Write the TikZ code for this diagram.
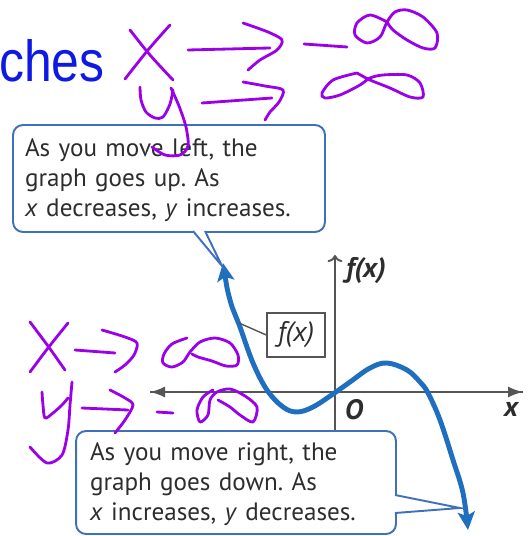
\documentclass[tikz,border=0pt]{standalone}
\usepackage{fontspec}
\setmainfont{PT Sans}
\newfontfamily\slidefont{Liberation Sans}
\usetikzlibrary{arrows.meta}
\frenchspacing

\definecolor{curveblue}{RGB}{31,111,193}
\definecolor{boxblue}{RGB}{62,112,190}
\definecolor{axisgray}{RGB}{85,85,85}
\definecolor{inkpurple}{RGB}{155,0,235}
\definecolor{titleblue}{RGB}{15,25,230}
\definecolor{textgray}{RGB}{45,45,45}

\tikzset{
  callout/.style={draw=boxblue, line width=1.1pt, rounded corners=0.2cm, fill=white,
    text=textgray, align=left, inner ysep=0pt, font=\fontsize{14.3}{17.1}\selectfont},
  pointer/.style={draw=boxblue, line width=1.1pt, fill=white},
  axis/.style={draw=axisgray, line width=1.1pt, -{Latex[length=0.3cm,width=0.22cm]}},
  axislabel/.style={text=textgray, inner sep=0pt, font=\fontsize{16}{16}\selectfont\bfseries\itshape},
  ink/.style={draw=inkpurple, line width=1.6pt, line cap=round, line join=round},
}

\begin{document}
\begin{tikzpicture}[x=0.02cm, y=-0.02cm]
\useasboundingbox (0,0) rectangle (530,536);

% Titre
\node[anchor=base west, inner sep=0pt, text=titleblue, xscale=0.86,
  font=\slidefont\fontsize{33}{36}\selectfont] (title) at (-1,82)
{ches};

% Axes
\coordinate (xl) at (150,392);
\coordinate (xr) at (523,392);
\coordinate (yb) at (335,431);
\coordinate (yt) at (335,255);

\draw[axis] (xl) -- (xr);
\draw[axis, <-] (yt) -- (yb);
\draw[axis] (xr) -- (xl);

\node[axislabel] (ylab) at (366,271)
{f(x)};

\node[axislabel] (olab) at (354,410)
{O};

\node[axislabel] (xlab) at (511,409)
{x};

% Courbe
\draw[curveblue, line width=2.8pt,
  {Stealth[length=0.36cm,width=0.34cm,inset=0.08cm]}-{Stealth[length=0.36cm,width=0.34cm,inset=0.08cm]}]
plot[smooth, tension=0.6] coordinates {(223,263) (230,300) (240,327) (253,363) (267,390)
  (283,407) (297,412) (313,407) (333,394) (350,382) (370,368) (387,363) (407,370)
  (420,382) (428,393) (440,420) (453,460) (463,493) (468,530)};

% Etiquette f(x)
\coordinate (fpt) at (239,323);

\node[draw=axisgray, line width=0.8pt, fill=white, minimum width=1.16cm,
  minimum height=0.88cm, text=textgray, font=\fontsize{16}{16}\selectfont\itshape] (flab) at (296,335)
{f(x)};

\draw[axisgray, line width=0.8pt]
(flab.west)
--
(fpt);

% Bulle gauche
\coordinate (tipL) at (222,266);
\coordinate (baseLa) at (193,231);
\coordinate (baseLb) at (205,231);

\node[callout, inner xsep=0.24cm, text width=5.76cm, minimum height=2.14cm] (leftbox) at (169,178.5)
{\rule{0pt}{0.42cm}As you move left, the\\
graph goes up. As\\
\textit{x} decreases, \textit{y} increases.};

\filldraw[pointer]
(baseLa)
--
(tipL)
--
(baseLb);

% Bulle droite
\coordinate (tipR) at (460,508);
\coordinate (baseRa) at (395,495);
\coordinate (baseRb) at (395,513);

\node[callout, inner xsep=0.28cm, text width=5.84cm, minimum height=2.06cm] (rightbox) at (236,482.5)
{\rule{0pt}{0.42cm}As you move right, the\\
graph goes down. As\\
\textit{x} increases, \textit{y} decreases.};

\filldraw[pointer]
(baseRa)
--
(tipR)
--
(baseRb);

% Notes a la main : x -> -oo, y -> oo
\draw[ink] plot[smooth] coordinates {(130,30) (150,55) (173,80)};
\draw[ink] plot[smooth] coordinates {(170,25) (148,50) (125,79)};
\draw[ink] (188,50) -- (270,48);
\draw[ink] plot[smooth] coordinates {(243,23) (268,32) (282,40) (277,50) (260,60) (248,70)};
\draw[ink] (304,44) -- (347,47);
\draw[ink] plot[smooth] coordinates {(387,22) (370,15) (357,23) (355,35) (367,43) (380,37)
  (387,22) (395,12) (407,10) (423,17) (437,33) (435,48) (423,48) (407,40) (393,30) (387,22)};

\draw[ink] plot[smooth] coordinates {(140,87) (141,100) (146,112) (155,118) (163,117) (170,104) (173,90)};
\draw[ink] plot[smooth] coordinates {(171,88) (179,106) (186,127) (188,146) (180,155) (165,155) (152,147)};
\draw[ink] (202,103) -- (272,98);
\draw[ink] plot[smooth] coordinates {(243,82) (265,86) (283,90) (279,102) (270,112) (265,120)};
\draw[ink] plot[smooth] coordinates {(357,73) (333,80) (322,93) (325,98) (340,95) (360,85)
  (370,78) (383,75) (407,75) (420,83) (423,97) (410,97) (390,88) (370,80) (357,73)};

% Notes a la main : x -> oo, y -> -oo
\draw[ink] plot[smooth] coordinates {(30,322) (48,346) (65,370)};
\draw[ink] plot[smooth] coordinates {(68,323) (48,348) (30,372)};
\draw[ink] (75,350) -- (115,353);
\draw[ink] plot[smooth] coordinates {(102,330) (125,337) (137,343) (134,355) (125,365) (115,372)};
\draw[ink] plot[smooth] coordinates {(187,338) (172,344) (164,354) (163,363) (172,367) (183,362)
  (190,352) (200,342) (215,338) (230,343) (238,355) (237,365) (226,366) (212,361) (198,357) (192,354)};

\draw[ink] plot[smooth] coordinates {(42,392) (43,405) (45,418) (53,413) (62,405) (68,398)};
\draw[ink] plot[smooth] coordinates {(72,382) (70,405) (68,430) (62,455) (47,463) (30,447)};
\draw[ink] (82,408) -- (128,410);
\draw[ink] plot[smooth] coordinates {(110,390) (125,398) (133,405) (125,420) (115,433)};
\draw[ink] (157,412) -- (173,413);
\draw[ink] plot[smooth] coordinates {(213,390) (203,397) (197,410) (200,422) (208,415) (210,400)
  (217,392) (230,389) (245,396) (257,407) (253,422) (240,415) (230,407) (218,400)};

\end{tikzpicture}
\end{document}
